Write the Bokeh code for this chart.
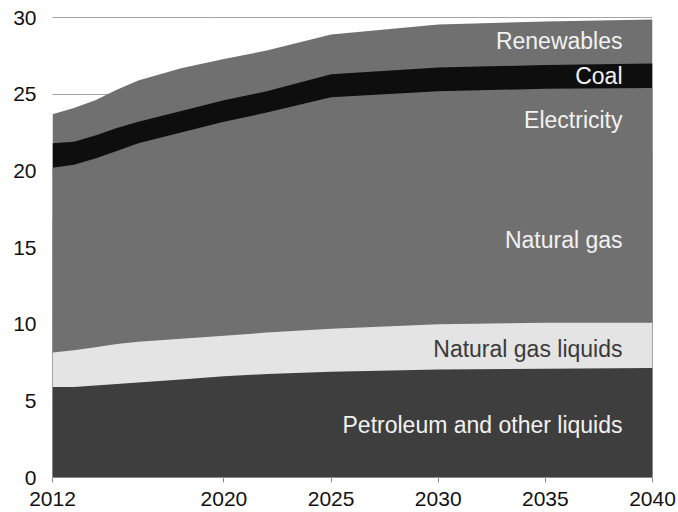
import numpy as np
from bokeh.plotting import figure
from bokeh.models import ColumnDataSource, FixedTicker, Range1d
from bokeh.core.properties import value
from bokeh.embed import file_html
from bokeh.resources import INLINE

years = [2012, 2013, 2014, 2015, 2016, 2018, 2020, 2022, 2025, 2030, 2035, 2040]
petroleum = [5.9, 5.9, 6.0, 6.1, 6.2, 6.4, 6.6, 6.75, 6.9, 7.05, 7.1, 7.15]
ngl = [2.25, 2.4, 2.5, 2.6, 2.65, 2.65, 2.65, 2.7, 2.8, 2.95, 3.0, 2.95]
natural_gas = [8.65, 8.7, 8.9, 9.1, 9.45, 9.85, 10.25, 10.55, 11.2, 11.2, 11.15, 11.1]
electricity = [3.4, 3.4, 3.4, 3.5, 3.5, 3.6, 3.7, 3.8, 3.9, 4.0, 4.1, 4.2]
coal = [1.6, 1.5, 1.5, 1.5, 1.4, 1.4, 1.4, 1.4, 1.5, 1.55, 1.55, 1.6]
renewables = [1.9, 2.2, 2.3, 2.5, 2.7, 2.8, 2.7, 2.65, 2.6, 2.8, 2.85, 2.88]

series_names = ["Petroleum and other liquids", "Natural gas liquids", "Natural gas",
                "Electricity", "Coal", "Renewables"]
series_colors = ["#3e3e3e", "#e4e4e4", "#707070", "#707070", "#0e0e0e", "#707070"]
label_colors = ["#f2f2f2", "#3a3a3a", "#f2f2f2", "#f2f2f2", "#f2f2f2", "#f2f2f2"]
label_y = [3.4, 8.4, 15.5, 23.3, 26.2, 28.5]
label_x = 2038.6

x_ticks = [2012, 2020, 2025, 2030, 2035, 2040]
y_ticks = [0, 5, 10, 15, 20, 25, 30]

layers = [petroleum, ngl, natural_gas, electricity, coal, renewables]
cum = np.cumsum(np.array(layers), axis=0)

p = figure(width=678, height=512, output_backend="svg", toolbar_location=None,
           x_range=Range1d(2012, 2040), y_range=Range1d(0, 30.07),
           min_border_left=52, min_border_right=26, min_border_top=16, min_border_bottom=35)
p.outline_line_color = None
p.background_fill_color = "white"

# draw each cumulative band from the baseline, top layer first, so no seams appear
for i in reversed(range(len(layers))):
    src = ColumnDataSource(dict(year=years, top=cum[i].tolist()))
    p.varea(x="year", y1=0, y2="top", source=src, fill_color=series_colors[i])

p.text(x=[label_x] * len(series_names), y=label_y, text=series_names,
       text_align="right", text_baseline="middle", text_color=label_colors,
       text_font=value("Liberation Sans"), text_font_size="23px")

p.xgrid.grid_line_color = None
p.ygrid.ticker = FixedTicker(ticks=y_ticks)
p.ygrid.grid_line_color = "#444444"
p.ygrid.grid_line_dash = "1 1"
p.ygrid.grid_line_width = 1

p.xaxis.ticker = FixedTicker(ticks=x_ticks)
p.yaxis.ticker = FixedTicker(ticks=y_ticks)
for ax in (p.xaxis, p.yaxis):
    ax.axis_line_color = None
    ax.minor_tick_line_color = None
    ax.major_label_text_font = "Liberation Sans"
    ax.major_label_text_font_size = "21px"
    ax.major_label_text_color = "#111111"
p.yaxis.major_tick_line_color = None
p.yaxis.major_label_standoff = 10
p.xaxis.major_tick_line_color = "#888888"
p.xaxis.major_tick_in = 0
p.xaxis.major_tick_out = 5
p.xaxis.major_label_standoff = 9

open("out.html", "w").write(file_html(p, INLINE))
